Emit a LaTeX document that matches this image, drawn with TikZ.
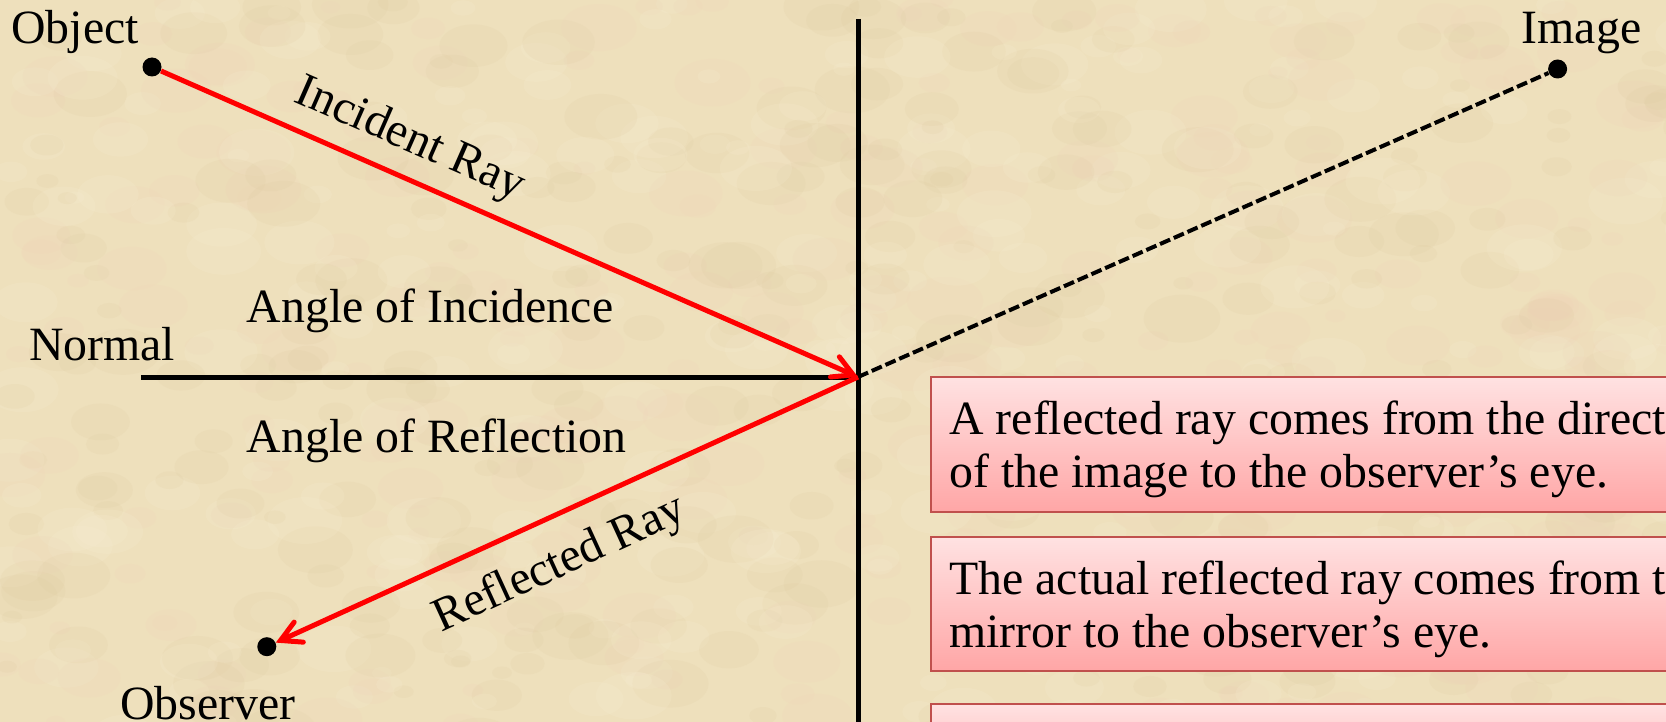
\documentclass[tikz,border=0pt]{standalone}
\usepackage{fontspec}
\setmainfont{Liberation Serif}
\usetikzlibrary{arrows.meta}
\definecolor{parch}{RGB}{238,224,188}
\definecolor{parchlight}{RGB}{250,240,214}
\definecolor{parchdark}{RGB}{222,202,160}
\definecolor{parchpink}{RGB}{238,210,184}
\definecolor{boxedge}{RGB}{192,80,77}
\definecolor{boxtop}{RGB}{255,226,226}
\definecolor{boxbot}{RGB}{255,166,166}
\definecolor{rayred}{RGB}{255,0,0}
\begin{document}
\begin{tikzpicture}[x=0.5pt,y=-0.5pt,
  lbl/.style={inner sep=0pt,font=\fontsize{23.9}{26.5}\selectfont},
  dot/.style={circle,fill=black,inner sep=0pt,minimum size=9.5pt},
  ray/.style={draw=rayred,line width=2.5pt},
  barb/.style={-{Straight Barb[length=10pt,width=11pt,line width=2.5pt,line cap=round]}},
  blackline/.style={draw=black,line width=2.5pt},
  virtual/.style={draw=black,line width=2pt,dash pattern=on 5.5pt off 2pt},
  infobox/.style={draw=boxedge,line width=0.8pt,top color=boxtop,bottom color=boxbot},
  blob/.style={fill opacity=0.16}]
\useasboundingbox (0,0) rectangle (1666,722);
\clip (0,0) rectangle (1666,722);
\fill[parch] (0,0) rectangle (1666,722);
% parchment mottling
\pgfmathsetseed{11}
\foreach \i in {1,...,900}{
  \pgfmathsetmacro\px{rnd*1700}
  \pgfmathsetmacro\py{rnd*760}
  \pgfmathsetmacro\rr{3+rnd*9}
  \pgfmathtruncatemacro\cc{mod(\i,3)}
  \ifcase\cc
    \fill[parchlight,blob] (\px,\py) circle[x radius=1.6*\rr pt,y radius=\rr pt];
  \or
    \fill[parchdark,blob] (\px,\py) circle[x radius=1.6*\rr pt,y radius=\rr pt];
  \else
    \fill[parchpink,blob] (\px,\py) circle[x radius=1.6*\rr pt,y radius=\rr pt];
  \fi
}

% info boxes
\path[infobox] (931,377) rectangle (1720,512);
\path[infobox] (931,537) rectangle (1720,671);
\path[infobox] (931,704) rectangle (1720,800);
\node[lbl,anchor=base west] (b1a) at (949,434.6) {A reflected ray comes from the direction};
\node[lbl,anchor=base west] (b1b) at (949,487.7) {of the image to the observer’s eye.};
\node[lbl,anchor=base west] (b2a) at (949,594) {The actual reflected ray comes from the};
\node[lbl,anchor=base west] (b2b) at (949,647) {mirror to the observer’s eye.};

% points
\coordinate (V) at (858,377);
\coordinate (mtop) at (858,19);
\coordinate (mbot) at (858,730);
\coordinate (nleft) at (141,377);
\node[dot] (obj) at (152,67) {};
\node[dot] (img) at (1557.6,69) {};
\node[dot] (obs) at (266.8,646.7) {};

% mirror and normal
\draw[blackline] (mtop) -- (mbot);
\draw[blackline] (nleft) -- (V);
% virtual ray to image
\draw[virtual] (V) -- (img);
% rays
\draw[ray,barb] (obj) -- (V);
\draw[ray,barb] (V) -- (obs);

% labels
\node[lbl,anchor=base west] (tobj) at (11,44) {Object};
\node[lbl,anchor=base east] (timg) at (1641.6,44) {Image};
\node[lbl,anchor=base west] (tnorm) at (28.7,360) {Normal};
\node[lbl,anchor=base west] (tinc) at (246.5,322) {Angle of Incidence};
\node[lbl,anchor=base west] (tref) at (246.5,452.6) {Angle of Reflection};
\node[lbl,anchor=base west] (tobs) at (120,719) {Observer};
\node[lbl,rotate=-23.7] (tir) at (410,140) {Incident Ray};
\node[lbl,rotate=24.6] (trr) at (560,565) {Reflected Ray};
\end{tikzpicture}
\end{document}
